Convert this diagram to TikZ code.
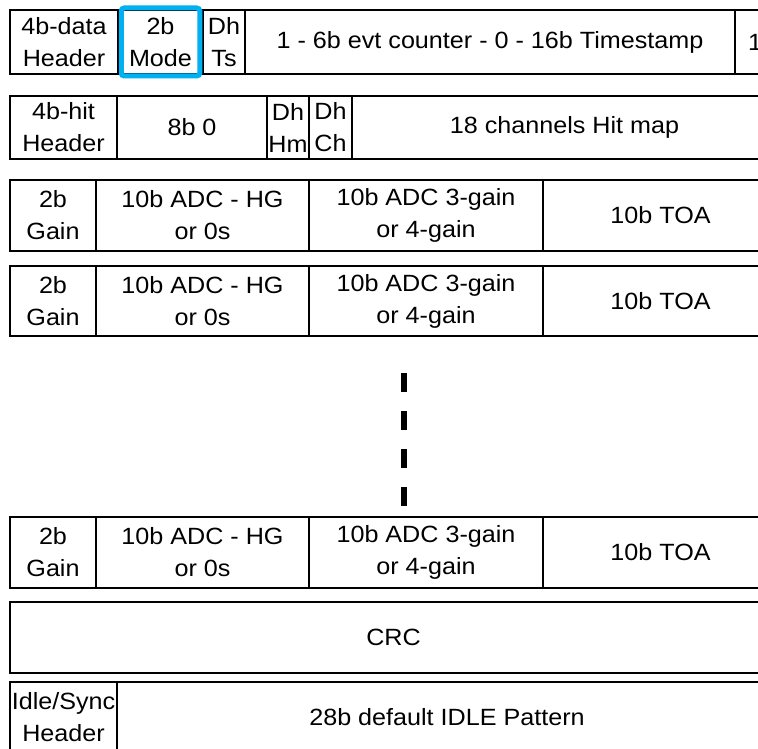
\documentclass[tikz,border=0pt]{standalone}
\usepackage{fontspec}
\setmainfont{Liberation Sans}[FakeStretch=1.07]
\definecolor{hlblue}{RGB}{0,176,240}
\tikzset{
  cell/.style={draw=black, line width=1.8pt, inner sep=0pt, outer sep=0pt,
    align=center, anchor=north west, font={\fontsize{23.5}{32}\selectfont}},
  celltext/.style={inner sep=0pt, outer sep=0pt, font={\fontsize{23.5}{32}\selectfont}},
  modebox/.style={draw=hlblue, line width=5pt, rounded corners=3pt, inner sep=0pt},
  dashline/.style={draw=black, line width=6pt, dash pattern=on 19pt off 19pt}
}
\begin{document}
\begin{tikzpicture}[x=1pt,y=-1pt]
\useasboundingbox (0,0) rectangle (758,749);
\fill[white] (0,0) rectangle (758,749);
\clip (0,0) rectangle (758,749);
% Row 1
\node[cell, minimum width=108pt, minimum height=64pt] (r1a) at (10,10) {4b-data\\Header};
\node[cell, minimum width=85pt, minimum height=64pt] (r1b) at (118,10) {2b\\Mode};
\node[cell, minimum width=42pt, minimum height=64pt] (r1c) at (203,10) {Dh\\Ts};
\node[cell, minimum width=490pt, minimum height=64pt] (r1d) at (245,10) {1 - 6b evt counter - 0 - 16b Timestamp};
\node[cell, minimum width=200pt, minimum height=64pt] (r1e) at (735,10) {};
\node[celltext, anchor=west] (r1et) at ([xshift=13pt]r1e.west) {1};
\node[modebox, minimum width=78.5pt, minimum height=68pt] (hl) at (r1b.center) {};
% Row 2
\node[cell, minimum width=107pt, minimum height=63pt] (r2a) at (10,96) {4b-hit\\Header};
\node[cell, minimum width=150pt, minimum height=63pt] (r2b) at (117,96) {8b 0};
\node[cell, minimum width=42pt, minimum height=63pt] (r2c) at (267,96) {Dh\\Hm};
\node[cell, minimum width=43pt, minimum height=63pt] (r2d) at (309,96) {Dh\\Ch};
\node[cell, minimum width=425pt, minimum height=63pt] (r2e) at (352,96) {18 channels Hit map};
% Row 3
\node[cell, minimum width=86pt, minimum height=71pt] (r3a) at (10,180) {2b\\Gain};
\node[cell, minimum width=213pt, minimum height=71pt] (r3b) at (96,180) {10b ADC - HG\\or 0s};
\node[cell, minimum width=234pt, minimum height=71pt] (r3c) at (309,180) {10b ADC 3-gain\\or 4-gain};
\node[cell, minimum width=235pt, minimum height=71pt] (r3d) at (543,180) {10b TOA};
% Row 4
\node[cell, minimum width=86pt, minimum height=70pt] (r4a) at (10,266) {2b\\Gain};
\node[cell, minimum width=213pt, minimum height=70pt] (r4b) at (96,266) {10b ADC - HG\\or 0s};
\node[cell, minimum width=234pt, minimum height=70pt] (r4c) at (309,266) {10b ADC 3-gain\\or 4-gain};
\node[cell, minimum width=235pt, minimum height=70pt] (r4d) at (543,266) {10b TOA};
% dashes
\coordinate (d1) at (404,373);
\coordinate (d2) at (404,506);
\draw[dashline] (d1) -- (d2);
% Row 5
\node[cell, minimum width=86pt, minimum height=71pt] (r5a) at (10,517) {2b\\Gain};
\node[cell, minimum width=213pt, minimum height=71pt] (r5b) at (96,517) {10b ADC - HG\\or 0s};
\node[cell, minimum width=234pt, minimum height=71pt] (r5c) at (309,517) {10b ADC 3-gain\\or 4-gain};
\node[cell, minimum width=235pt, minimum height=71pt] (r5d) at (543,517) {10b TOA};
% CRC
\node[cell, minimum width=767pt, minimum height=71pt] (crc) at (10,602) {CRC};
% Idle
\node[cell, minimum width=107pt, minimum height=70pt] (ida) at (10,682) {Idle/Sync\\Header};
\node[cell, minimum width=660pt, minimum height=70pt] (idb) at (117,682) {28b default IDLE Pattern};
\end{tikzpicture}
\end{document}
